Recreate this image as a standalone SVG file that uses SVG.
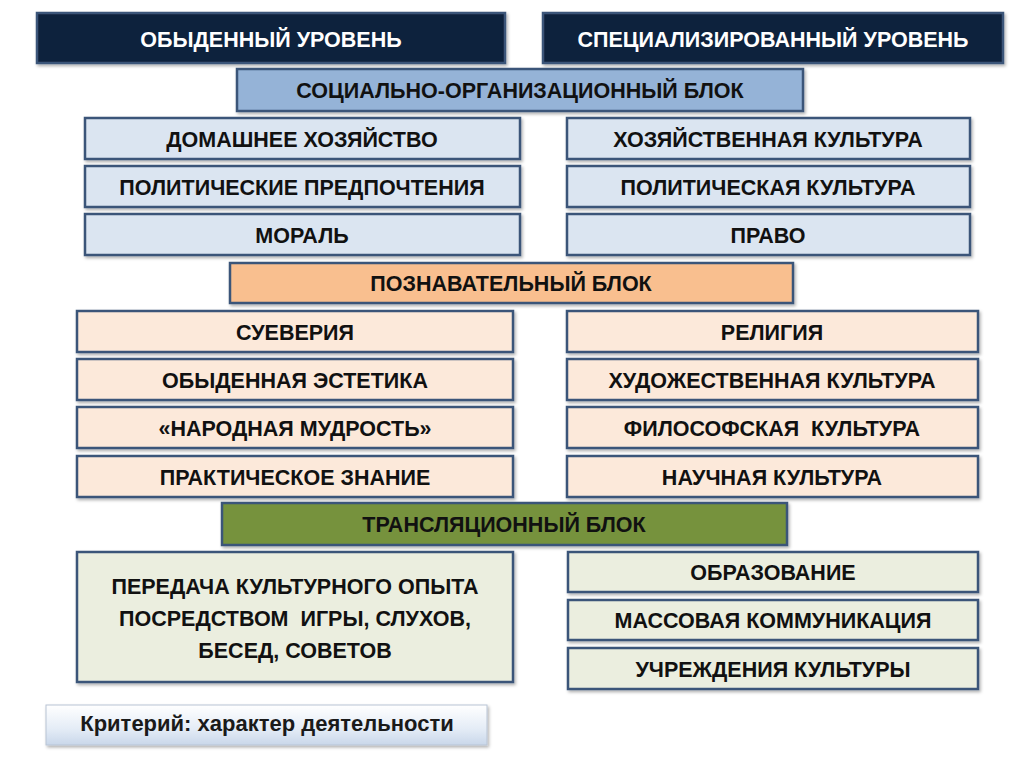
<svg xmlns="http://www.w3.org/2000/svg" width="1024" height="767" viewBox="0 0 1024 767">
<defs>
<filter id="sh" x="-5%" y="-20%" width="110%" height="150%">
<feDropShadow dx="1.5" dy="2" stdDeviation="1.5" flood-color="#000" flood-opacity="0.3"/>
</filter>
<linearGradient id="crit" x1="0" y1="0" x2="0" y2="1">
<stop offset="0" stop-color="#ffffff"/>
<stop offset="0.6" stop-color="#e4ecf6"/>
<stop offset="1" stop-color="#c9d7ea"/>
</linearGradient>
</defs>
<style>
rect{stroke:#3a5579;stroke-width:2.5;filter:url(#sh)}
text{font-family:"Liberation Sans",Arial,sans-serif;font-weight:bold;font-size:21.5px;text-anchor:middle;fill:#111}
.dark{fill:#10223e}
.so{fill:#95b3d7}
.lb{fill:#dbe5f1}
.or{fill:#f9bf8f}
.pe{fill:#fce9da}
.gr{fill:#76923c}
.be{fill:#ebeedf}
.cr{fill:url(#crit);stroke:#b8c4d4;stroke-width:1}
.wt{fill:#fff}
</style>
<rect width="1024" height="767" fill="#fff" style="stroke:none;filter:none"/>
<g id="connectors"/>
<g id="n-obyd"><rect class="dark" x="37" y="13" width="468" height="50"/><text class="wt" x="271" y="47">ОБЫДЕННЫЙ УРОВЕНЬ</text></g>
<g id="n-spec"><rect class="dark" x="543" y="13" width="460" height="50"/><text class="wt" x="773" y="47">СПЕЦИАЛИЗИРОВАННЫЙ УРОВЕНЬ</text></g>
<g id="n-soc"><rect class="so" x="237" y="69" width="566" height="42"/><text x="520" y="98">СОЦИАЛЬНО-ОРГАНИЗАЦИОННЫЙ БЛОК</text></g>
<g id="n-dom"><rect class="lb" x="85" y="118" width="435" height="41"/><text x="302" y="147">ДОМАШНЕЕ ХОЗЯЙСТВО</text></g>
<g id="n-hoz"><rect class="lb" x="567" y="118" width="403" height="41"/><text x="768" y="147">ХОЗЯЙСТВЕННАЯ КУЛЬТУРА</text></g>
<g id="n-polp"><rect class="lb" x="85" y="166" width="435" height="41"/><text x="302" y="195">ПОЛИТИЧЕСКИЕ ПРЕДПОЧТЕНИЯ</text></g>
<g id="n-polk"><rect class="lb" x="567" y="166" width="403" height="41"/><text x="768" y="195">ПОЛИТИЧЕСКАЯ КУЛЬТУРА</text></g>
<g id="n-mor"><rect class="lb" x="85" y="214" width="435" height="41"/><text x="302" y="243">МОРАЛЬ</text></g>
<g id="n-pravo"><rect class="lb" x="567" y="214" width="403" height="41"/><text x="768" y="243">ПРАВО</text></g>
<g id="n-pozn"><rect class="or" x="230" y="263" width="563" height="40"/><text x="511" y="291">ПОЗНАВАТЕЛЬНЫЙ БЛОК</text></g>
<g id="n-suev"><rect class="pe" x="77" y="311" width="436" height="41"/><text x="295" y="340">СУЕВЕРИЯ</text></g>
<g id="n-rel"><rect class="pe" x="567" y="311" width="411" height="41"/><text x="772" y="340">РЕЛИГИЯ</text></g>
<g id="n-est"><rect class="pe" x="77" y="359" width="436" height="41"/><text x="295" y="388">ОБЫДЕННАЯ ЭСТЕТИКА</text></g>
<g id="n-hud"><rect class="pe" x="567" y="359" width="411" height="41"/><text x="772" y="388">ХУДОЖЕСТВЕННАЯ КУЛЬТУРА</text></g>
<g id="n-mud"><rect class="pe" x="77" y="407" width="436" height="41"/><text x="295" y="436">«НАРОДНАЯ МУДРОСТЬ»</text></g>
<g id="n-fil"><rect class="pe" x="567" y="407" width="411" height="41"/><text x="772" y="436" style="white-space:pre">ФИЛОСОФСКАЯ  КУЛЬТУРА</text></g>
<g id="n-prak"><rect class="pe" x="77" y="456" width="436" height="41"/><text x="295" y="485">ПРАКТИЧЕСКОЕ ЗНАНИЕ</text></g>
<g id="n-nauch"><rect class="pe" x="567" y="456" width="411" height="41"/><text x="772" y="485">НАУЧНАЯ КУЛЬТУРА</text></g>
<g id="n-trans"><rect class="gr" x="222" y="503" width="565" height="42"/><text x="504" y="532">ТРАНСЛЯЦИОННЫЙ БЛОК</text></g>
<g id="n-pered"><rect class="be" x="77" y="552" width="436" height="130"/>
<text x="295" y="594">ПЕРЕДАЧА КУЛЬТУРНОГО ОПЫТА</text>
<text x="295" y="626" style="white-space:pre">ПОСРЕДСТВОМ  ИГРЫ, СЛУХОВ,</text>
<text x="295" y="658">БЕСЕД, СОВЕТОВ</text></g>
<g id="n-obr"><rect class="be" x="568" y="552" width="410" height="40"/><text x="773" y="580">ОБРАЗОВАНИЕ</text></g>
<g id="n-mass"><rect class="be" x="568" y="600" width="410" height="40"/><text x="773" y="628">МАССОВАЯ КОММУНИКАЦИЯ</text></g>
<g id="n-uchr"><rect class="be" x="568" y="648" width="410" height="41"/><text x="773" y="677">УЧРЕЖДЕНИЯ КУЛЬТУРЫ</text></g>
<g id="n-krit"><rect class="cr" x="46" y="705" width="441" height="40"/><text x="267" y="731" style="font-size:22px;fill:#1a1a1a">Критерий: характер деятельности</text></g>
</svg>
